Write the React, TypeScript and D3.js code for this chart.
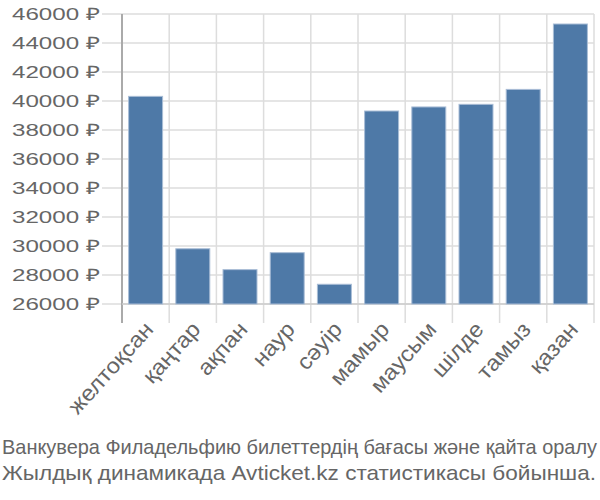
import React from "react";
import * as d3 from "d3";

const months = ["желтоқсан", "қаңтар", "ақпан", "наур", "сәуір", "мамыр", "маусым", "шілде", "тамыз", "қазан"];
const prices = [40320, 29810, 28370, 29540, 27360, 39310, 39590, 39770, 40800, 45310];
const yTicks = [26000, 28000, 30000, 32000, 34000, 36000, 38000, 40000, 42000, 44000, 46000];
const captionLines = [
  "Ванкувера Филадельфию билеттердің бағасы және қайта оралу",
  "Жылдық динамикада Avticket.kz статистикасы бойынша.",
];

const W = 600;
const H = 500;
const left = 122;
const right = 594;
const top = 14;
const bottom = 304;

export default function App() {
  const x = d3.scaleBand<string>().domain(months).range([left, right]).paddingInner(0.28).paddingOuter(0.14);
  const y = d3.scaleLinear().domain([26000, 46000]).range([bottom, top]);
  const step = x.step();
  const font = "'Liberation Sans', Arial, sans-serif";
  return (
    <svg width={W} height={H} style={{ position: "absolute", left: 0, top: 0, background: "#fff" }}>
      {yTicks.map((t) => (
        <line key={"h" + t} x1={102} x2={right} y1={y(t)} y2={y(t)} stroke="#dddddd" strokeWidth={1.5} />
      ))}
      {d3.range(months.length + 1).map((i) => (
        <line key={"v" + i} x1={left + i * step} x2={left + i * step} y1={top} y2={323} stroke="#dddddd" strokeWidth={1.5} />
      ))}
      <line x1={left} x2={left} y1={top} y2={323} stroke="#aaaaaa" strokeWidth={2} />
      <line x1={left} x2={right} y1={bottom} y2={bottom} stroke="#cccccc" strokeWidth={1.5} />
      {months.map((m, i) => (
        <rect
          key={m}
          x={x(m)}
          y={y(prices[i])}
          width={x.bandwidth()}
          height={bottom - y(prices[i])}
          fill="#4e79a7"
          stroke="#a9bdd6"
          strokeWidth={1}
        />
      ))}
      {yTicks.map((t) => (
        <text
          key={"t" + t}
          x={100}
          y={y(t)}
          dy="0.36em"
          textAnchor="end"
          fontFamily={font}
          fontSize={17}
          fill="#666"
          textLength={88}
          lengthAdjust="spacingAndGlyphs"
        >
          {t + " ₽"}
        </text>
      ))}
      {months.map((m) => {
        const cx = (x(m) as number) + x.bandwidth() / 2;
        return (
          <text
            key={"l" + m}
            transform={`translate(${cx + 3},${325}) rotate(-48) scale(1.08,1)`}
            dy="0.36em"
            textAnchor="end"
            fontFamily={font}
            fontSize={22}
            fill="#666"
          >
            {m}
          </text>
        );
      })}
      {captionLines.map((line, i) => (
        <text
          key={"c" + i}
          x={2}
          y={454 + i * 26}
          fontFamily={font}
          fontSize={21}
          fill="#666"
          textLength={i === 0 ? 595 : 594}
          lengthAdjust="spacingAndGlyphs"
        >
          {line}
        </text>
      ))}
    </svg>
  );
}
